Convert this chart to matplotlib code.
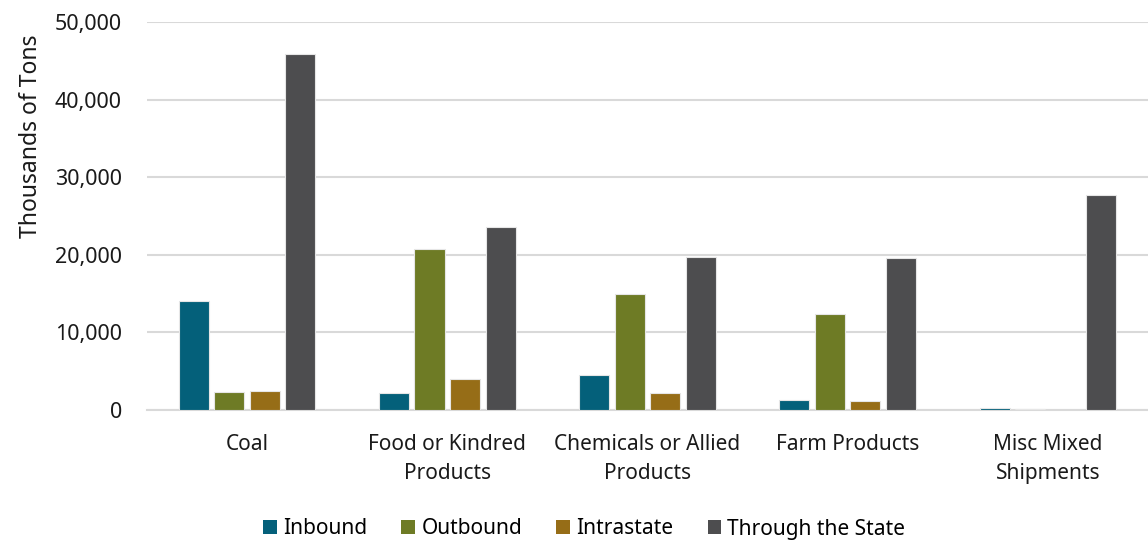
import matplotlib
matplotlib.use("Agg")
import matplotlib.pyplot as plt
import numpy as np

categories = ["Coal", "Food or Kindred\nProducts", "Chemicals or Allied\nProducts",
              "Farm Products", "Misc Mixed\nShipments"]
series_names = ["Inbound", "Outbound", "Intrastate", "Through the State"]
inbound = [14100, 2200, 4450, 1300, 300]
outbound = [2350, 20750, 14950, 12350, 120]
intrastate = [2450, 4000, 2200, 1150, 0]
through = [45850, 23550, 19750, 19650, 27700]
yticks = [0, 10000, 20000, 30000, 40000, 50000]

colors = ["#04607A", "#6E7B25", "#966D17", "#4D4D4F"]

plt.rcParams['font.family'] = ['Noto Sans', 'DejaVu Sans']

fig = plt.figure(figsize=(11.48, 5.42), dpi=100)
ax = fig.add_axes([0.128, 0.2435, 0.872, 0.7159])

x = np.arange(len(categories))
step = 0.1775
width = 0.15
data = [inbound, outbound, intrastate, through]
for i, (vals, name, c) in enumerate(zip(data, series_names, colors)):
    ax.bar(x + (i - 1.5) * step, vals, width=width, color=c, label=name,
           edgecolor="#e6e6e6", linewidth=0.8, zorder=3)

ax.set_xlim(-0.5, 4.5)
ax.set_ylim(0, 50000)
ax.set_yticks(yticks)
ax.set_yticklabels([f"{v:,}" for v in yticks])
ax.set_xticks(x)
ax.set_xticklabels(categories, linespacing=1.55)
ax.tick_params(axis='y', length=0, pad=18, labelsize=15.5, colors="#1a1a1a")
ax.tick_params(axis='x', length=0, pad=17, labelsize=15, colors="#1a1a1a")
ax.grid(axis='y', color="#d9d9d9", linewidth=1.5, zorder=0)
for s in ["top", "right", "left"]:
    ax.spines[s].set_visible(False)
ax.spines["bottom"].set_color("#d9d9d9")
ax.spines["bottom"].set_linewidth(1.5)
ax.set_ylabel("Thousands of Tons", fontsize=16.5, color="#1a1a1a")
ax.yaxis.set_label_coords(-0.104, 0.705)

leg = fig.legend(loc="center", bbox_to_anchor=(0.509, 1 - 529 / 542), ncol=4,
                 frameon=False, fontsize=15, handlelength=0.65, handleheight=0.65,
                 handletextpad=0.3, columnspacing=1.65)
for h in leg.legend_handles:
    h.set_edgecolor("none")

fig.savefig("out.png", dpi=100)
